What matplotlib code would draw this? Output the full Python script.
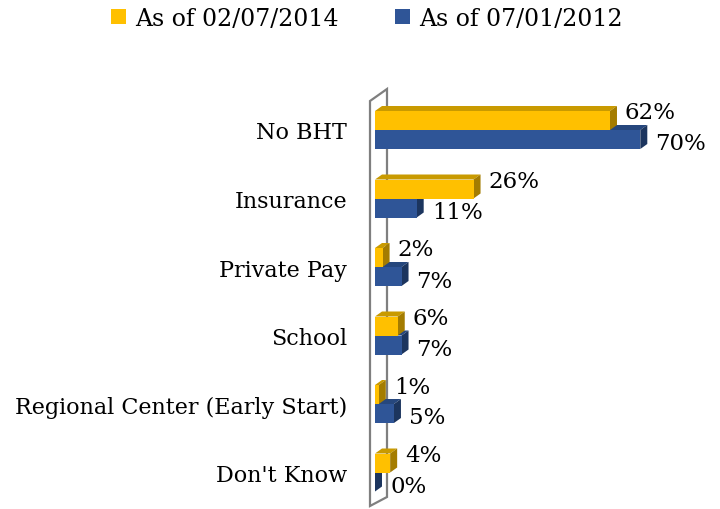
import matplotlib.pyplot as plt
import matplotlib as mpl
from matplotlib.patches import Polygon, Patch

mpl.rcParams['font.family'] = ['DejaVu Serif']
plt.rcParams['font.size'] = 16

categories = ['No BHT', 'Insurance', 'Private Pay', 'School',
              'Regional Center (Early Start)', "Don't Know"]
vals_2014 = [62, 26, 2, 6, 1, 4]
vals_2012 = [70, 11, 7, 7, 5, 0]
labels_2014 = ['As of 02/07/2014']
labels_2012 = ['As of 07/01/2012']

yellow, yellow_top, yellow_side = '#FFC000', '#C99A00', '#A47C00'
blue, blue_top, blue_side = '#2F5597', '#26477D', '#1C355E'

# pixel scale helpers (figure is 720x510 at dpi 100)
px_x = 1 / 3.79      # % per pixel
px_y = 1 / 68.5      # category units per pixel
dx, dy = 7 * px_x, 5 * px_y
h = 19 * px_y

fig = plt.figure(figsize=(7.2, 5.1), dpi=100)
ax = fig.add_axes([375 / 720, 0, 325 / 720, 425 / 510])
ax.set_xlim(0, 325 * px_x)
ax.set_ylim(5 - 379 * px_y, 5 + 46 * px_y)
for s in ax.spines.values():
    s.set_visible(False)
ax.set_xticks([])

n = len(categories)
ypos = [n - 1 - i for i in range(n)]

# wall
wx0, wx1 = -5 * px_x, 12 * px_x
wall = [(wx0, 5 + 29 * px_y), (wx1, 5 + 41 * px_y),
        (wx1, 5 - 367 * px_y), (wx0, 5 - 376 * px_y)]
ax.add_patch(Polygon(wall, closed=True, facecolor='white', edgecolor='#7F7F7F',
                     linewidth=1.6, clip_on=False, zorder=1))


def bar3d(y0, y1, v, front, top, side):
    # y0 bottom, y1 top of front face
    ax.add_patch(Polygon([(0, y1), (v, y1), (v + dx, y1 + dy), (dx, y1 + dy)],
                         facecolor=top, edgecolor='none', zorder=2, clip_on=False))
    ax.add_patch(Polygon([(v, y0), (v, y1), (v + dx, y1 + dy), (v + dx, y0 + dy)],
                         facecolor=side, edgecolor='none', zorder=2, clip_on=False))
    ax.barh((y0 + y1) / 2, v, height=y1 - y0, left=0, color=front, zorder=3)


for y, a, b in zip(ypos, vals_2014, vals_2012):
    bar3d(y - h, y, b, blue, blue_top, blue_side)
    bar3d(y, y + h, a, yellow, yellow_top, yellow_side)
    ax.text(a + dx + 8 * px_x, y + h / 2 + 8 * px_y, f'{a}%', va='center', ha='left',
            fontsize=16.5, zorder=5)
    ax.text(b + dx + 8 * px_x, y - h / 2 - 4 * px_y, f'{b}%', va='center', ha='left',
            fontsize=16.5, zorder=5)

ax.set_yticks(ypos)
ax.set_yticklabels(categories, fontsize=16)
ax.tick_params(axis='y', length=0, pad=20)

handles = [Patch(facecolor=yellow, label=labels_2014[0]),
           Patch(facecolor=blue, label=labels_2012[0])]
fig.legend(handles=handles, loc='center', bbox_to_anchor=(367 / 720, 1 - 19 / 510),
           ncol=2, frameon=False, fontsize=17, handlelength=0.6, handleheight=0.6,
           handletextpad=0.4, columnspacing=2.4)

plt.savefig('out.png', dpi=100)
